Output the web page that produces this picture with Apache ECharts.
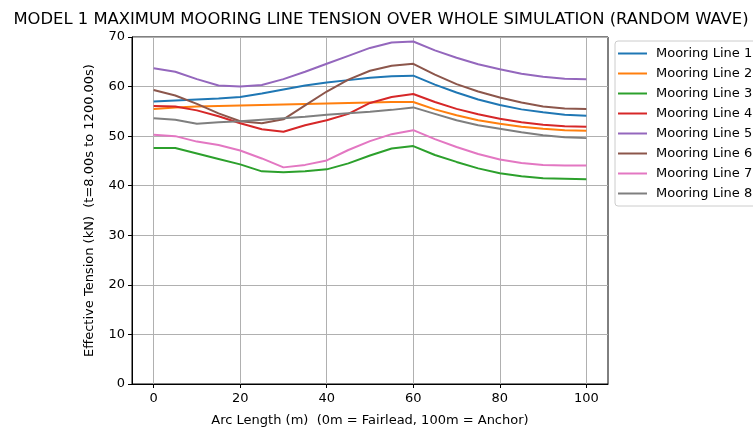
<!DOCTYPE html>
<html>
<head>
<meta charset="utf-8">
<script src="https://cdn.jsdelivr.net/npm/echarts@6/dist/echarts.min.js"></script>
<style>
  html, body { margin: 0; padding: 0; background: #fff; }
  #chart { width: 753px; height: 432px; }
</style>
</head>
<body>
<div id="chart"></div>
<script>
// arc length positions (m)
var arcLength = [0, 5, 10, 15, 20, 25, 30, 35, 40, 45, 50, 55, 60, 65, 70, 75, 80, 85, 90, 95, 100];

// max effective tension (kN) per mooring line
var line1 = [57.0, 57.2, 57.4, 57.6, 57.9, 58.6, 59.4, 60.2, 60.8, 61.3, 61.8, 62.1, 62.2, 60.4, 58.8, 57.4, 56.3, 55.4, 54.8, 54.3, 54.1];
var line2 = [55.5, 55.8, 56.0, 56.1, 56.2, 56.3, 56.4, 56.5, 56.6, 56.7, 56.8, 56.9, 56.9, 55.4, 54.2, 53.2, 52.5, 51.9, 51.5, 51.2, 51.1];
var line3 = [47.6, 47.6, 46.5, 45.4, 44.3, 42.9, 42.7, 42.9, 43.3, 44.5, 46.1, 47.5, 48.0, 46.2, 44.8, 43.5, 42.5, 41.9, 41.5, 41.4, 41.3];
var line4 = [56.1, 56.0, 55.2, 54.0, 52.6, 51.4, 50.9, 52.2, 53.2, 54.5, 56.7, 57.9, 58.5, 56.9, 55.5, 54.4, 53.5, 52.8, 52.3, 52.0, 51.9];
var line5 = [63.7, 63.0, 61.5, 60.2, 60.0, 60.3, 61.5, 63.0, 64.6, 66.2, 67.8, 68.9, 69.1, 67.3, 65.8, 64.5, 63.5, 62.6, 62.0, 61.6, 61.5];
var line6 = [59.3, 58.2, 56.5, 54.6, 53.0, 52.6, 53.4, 56.2, 59.0, 61.4, 63.2, 64.2, 64.6, 62.4, 60.5, 59.0, 57.8, 56.8, 56.0, 55.6, 55.5];
var line7 = [50.3, 50.0, 48.9, 48.2, 47.1, 45.5, 43.7, 44.2, 45.1, 47.2, 49.0, 50.4, 51.2, 49.4, 47.8, 46.4, 45.3, 44.6, 44.2, 44.1, 44.1];
var line8 = [53.6, 53.3, 52.5, 52.8, 53.0, 53.3, 53.6, 53.9, 54.3, 54.6, 54.9, 55.3, 55.8, 54.5, 53.2, 52.2, 51.5, 50.8, 50.2, 49.8, 49.6];

var lineNames = ['Mooring Line 1', 'Mooring Line 2', 'Mooring Line 3', 'Mooring Line 4',
                 'Mooring Line 5', 'Mooring Line 6', 'Mooring Line 7', 'Mooring Line 8'];
var lineData = [line1, line2, line3, line4, line5, line6, line7, line8];
var colors = ['#1f77b4', '#ff7f0e', '#2ca02c', '#d62728', '#9467bd', '#8c564b', '#e377c2', '#7f7f7f'];

var xTicks = [0, 20, 40, 60, 80, 100];

var font = 'DejaVu Sans';
var myChart = echarts.init(document.getElementById('chart'));

function pairs(ys) {
    var out = [];
    for (var i = 0; i < arcLength.length; i++) {
        out.push([arcLength[i], ys[i]]);
    }
    return out;
}

var series = [];
for (var i = 0; i < lineNames.length; i++) {
    series.push({
        name: lineNames[i],
        type: 'line',
        symbol: 'none',
        smooth: false,
        data: pairs(lineData[i]),
        lineStyle: { width: 2, color: colors[i] },
        itemStyle: { color: colors[i] }
    });
}

var option = {
    animation: false,
    textStyle: { fontFamily: font },
    title: {
        text: 'MODEL 1 MAXIMUM MOORING LINE TENSION OVER WHOLE SIMULATION (RANDOM WAVE)',
        left: 376,
        textAlign: 'center',
        top: 7,
        textStyle: { fontFamily: font, fontSize: 16.4, fontWeight: 'normal', color: '#000' }
    },
    legend: {
        orient: 'vertical',
        left: 615,
        top: 41,
        icon: 'rect',
        itemWidth: 29,
        itemHeight: 2,
        itemGap: 7,
        padding: [6, 6, 6, 3],
        borderColor: '#cccccc',
        borderWidth: 1,
        borderRadius: 3,
        backgroundColor: '#fff',
        textStyle: { fontFamily: font, fontSize: 13, color: '#000', padding: [0, 0, 0, 4] },
        data: lineNames
    },
    grid: {
        left: 132,
        right: 145,
        top: 37,
        bottom: 42,
        show: true,
        borderColor: '#000',
        borderWidth: 1
    },
    xAxis: {
        type: 'value',
        min: -5,
        max: 105,
        name: 'Arc Length (m)  (0m = Fairlead, 100m = Anchor)',
        nameLocation: 'middle',
        nameGap: 30,
        nameTextStyle: { fontFamily: font, fontSize: 13, color: '#000' },
        axisLine: { onZero: false, lineStyle: { color: '#000' } },
        axisTick: { show: true, length: 4, customValues: xTicks, lineStyle: { color: '#000' } },
        axisLabel: { customValues: xTicks, fontSize: 13, color: '#000', margin: 8 },
        splitLine: { show: true, customValues: xTicks, lineStyle: { color: '#b0b0b0', width: 1 } }
    },
    yAxis: {
        type: 'value',
        min: 0,
        max: 70,
        interval: 10,
        name: 'Effective Tension (kN)  (t=8.00s to 1200.00s)',
        nameLocation: 'middle',
        nameGap: 36,
        nameTextStyle: { fontFamily: font, fontSize: 13, color: '#000' },
        axisLine: { show: true, onZero: false, lineStyle: { color: '#000' } },
        axisTick: { show: true, length: 4, lineStyle: { color: '#000' } },
        axisLabel: { fontSize: 13, color: '#000', margin: 7 },
        splitLine: { show: true, lineStyle: { color: '#b0b0b0', width: 1 } }
    },
    series: series
};

myChart.setOption(option);
</script>
</body>
</html>
